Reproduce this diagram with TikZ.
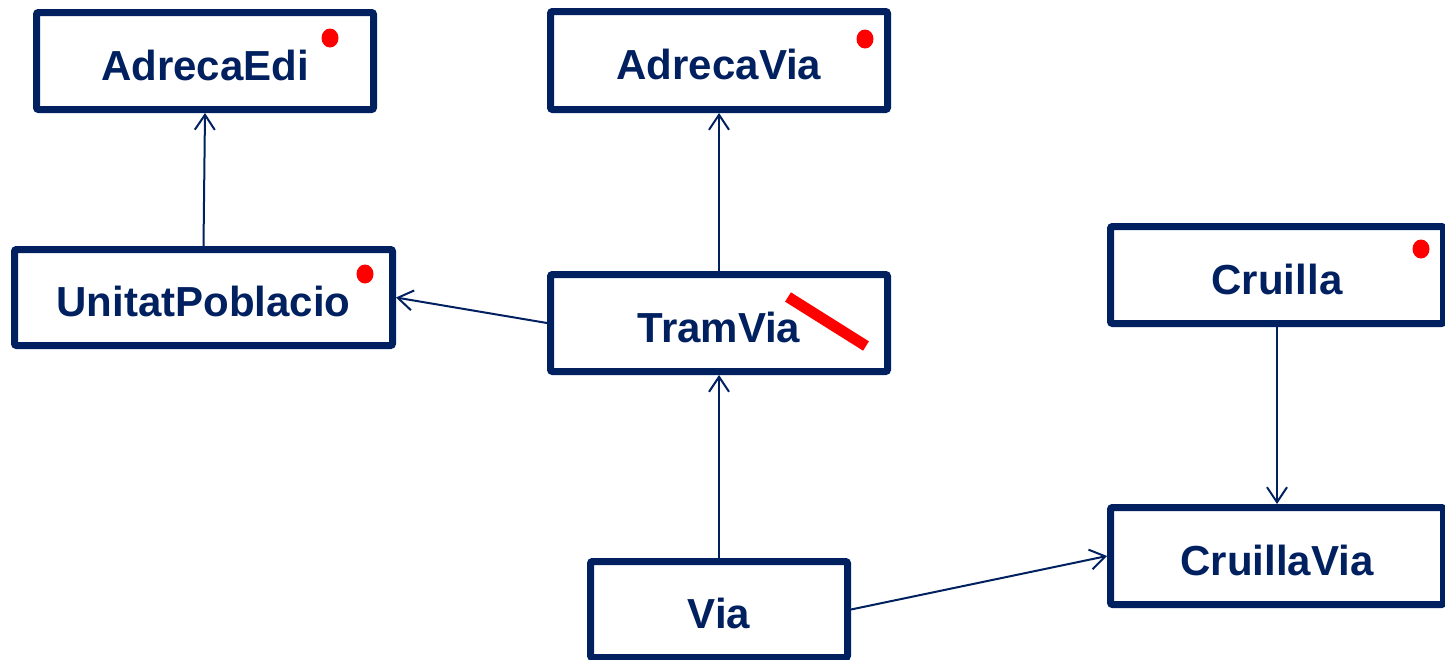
\documentclass[tikz,border=0pt]{standalone}
\usepackage{fontspec}
\setmainfont{Liberation Sans}
\usetikzlibrary{arrows.meta,shapes.geometric}
\definecolor{navy}{RGB}{0,32,96}
\definecolor{redmark}{RGB}{255,0,0}
\tikzset{
  cls/.style={draw=navy, line width=7pt, rounded corners=2pt, fill=white,
    inner sep=0pt, text depth=0pt, text height=38pt, text=navy,
    font=\fontsize{42}{50}\selectfont\bfseries},
  assoc/.style={draw=navy, line width=2pt, -{Straight Barb[length=15pt,width=20pt,line width=2pt]}},
  rdot/.style={ellipse, fill=redmark, inner sep=0pt, minimum width=17pt, minimum height=19pt},
}
\begin{document}
\begin{tikzpicture}[x=1pt,y=-1pt]
\useasboundingbox (0,0) rectangle (1445,659);
\node[cls, minimum width=337pt, minimum height=97pt] (ae) at (205,61) {AdrecaEdi};
\node[cls, minimum width=378pt, minimum height=96pt] (up) at (203.5,297.5) {UnitatPoblacio};
\node[cls, minimum width=337pt, minimum height=98pt] (av) at (719,60.5) {AdrecaVia};
\node[cls, minimum width=337pt, minimum height=97pt] (tv) at (719,323) {TramVia};
\node[cls, minimum width=257pt, minimum height=96pt] (via) at (719,609.5) {Via};
\node[cls, minimum width=333pt, minimum height=97pt] (cr) at (1277,275) {Cruilla};
\node[cls, minimum width=333pt, minimum height=97pt] (cv) at (1277,556) {CruillaVia};
\node[rdot] (d1) at (330,38) {};
\node[rdot] (d2) at (365,274) {};
\node[rdot] (d3) at (865,39) {};
\node[rdot] (d4) at (1421,249) {};
\coordinate (s1) at (788,297);
\coordinate (s2) at (866,346);
\draw[redmark, line width=11pt] (s1) -- (s2);
\draw[assoc] (up.north) -- (ae.south);
\draw[assoc] (tv.west) -- (up.east);
\draw[assoc] (tv.north) -- (av.south);
\draw[assoc] (via.north) -- (tv.south);
\draw[assoc] (via.east) -- (cv.west);
\draw[assoc] (cr.south) -- (cv.north);
\end{tikzpicture}
\end{document}
